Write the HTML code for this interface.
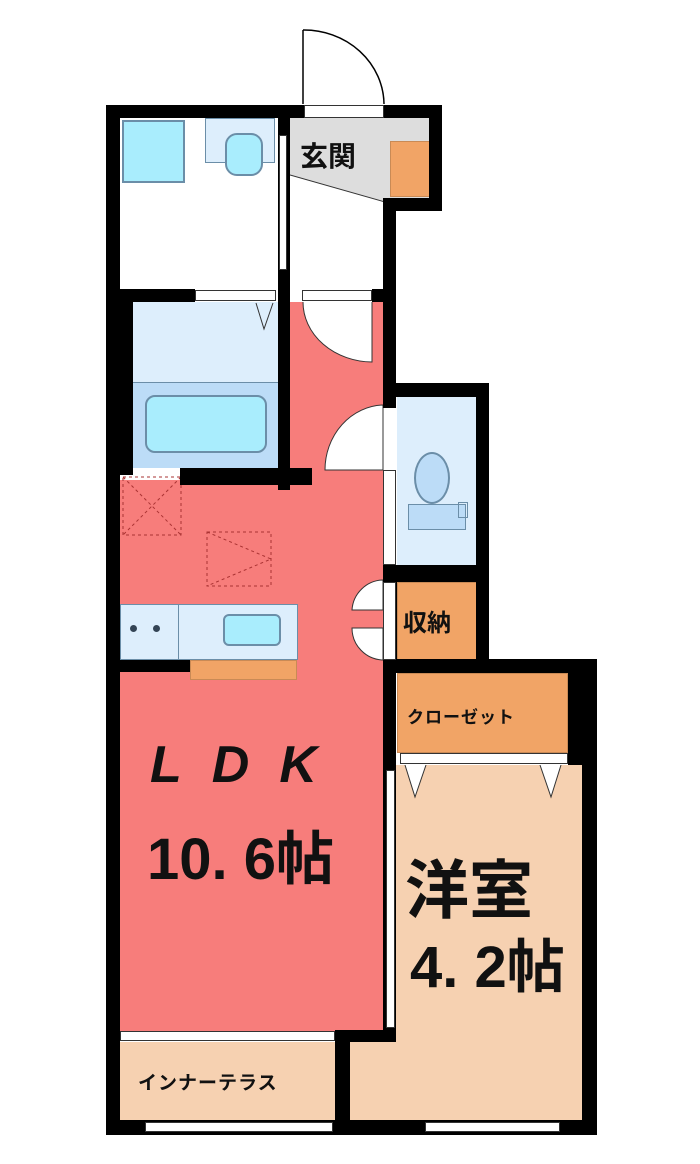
<!DOCTYPE html>
<html><head><meta charset="utf-8"><style>
body{margin:0;width:700px;height:1164px;background:#fff;position:relative;overflow:hidden;font-family:"Liberation Sans","Noto Sans CJK JP",sans-serif}
div{position:absolute;box-sizing:border-box}
.k{background:#000}
.pk{background:#f77d7b}
.pe{background:#f6d1b1}
.or{background:#f1a466;border:1px solid #c98a55}
.lb{background:#ddeefc}
.cy{background:#a9edfd;border:2px solid #6b8ea8}
.w{background:#fff}
.t{font-weight:bold;color:#111;white-space:nowrap}
</style></head><body>
<svg style="position:absolute;left:0;top:0" width="700" height="1164">
<path d="M303 30 L303 104 M303 30 A80 75 0 0 1 384 104" fill="none" stroke="#000" stroke-width="1.5"/>
</svg>
<!-- genkan -->
<div style="left:290px;top:118px;width:140px;height:90px;background:#ddd"></div>
<svg style="position:absolute;left:290px;top:170px" width="100" height="40"><polygon points="0,5 95,32 95,40 0,40" fill="#fff"/><line x1="0" y1="5" x2="95" y2="32" stroke="#333"/></svg>
<div class="w" style="left:290px;top:208px;width:95px;height:84px"></div>
<div class="or" style="left:390px;top:141px;width:40px;height:56px"></div>
<div class="t" style="left:300px;top:135px;font-size:28px">玄関</div>
<!-- wash -->
<div class="cy" style="left:122px;top:120px;width:63px;height:63px"></div>
<div class="lb" style="left:205px;top:118px;width:70px;height:45px;border:1px solid #6b8ea8"></div>
<div class="cy" style="left:225px;top:133px;width:38px;height:43px;border-radius:12px"></div>
<!-- bath -->
<div class="lb" style="left:133px;top:302px;width:145px;height:80px"></div>
<div style="left:133px;top:382px;width:145px;height:86px;background:#bcdcf7;border-top:1px solid #6b8ea8"></div>
<div class="cy" style="left:145px;top:395px;width:122px;height:58px;border-radius:10px"></div>
<svg style="position:absolute;left:255px;top:302px" width="20" height="30"><path d="M1 1 L9 27 L18 1" fill="none" stroke="#333"/></svg>
<!-- LDK pink -->
<div class="pk" style="left:290px;top:302px;width:93px;height:190px"></div>
<div class="pk" style="left:120px;top:480px;width:263px;height:552px"></div>
<svg style="position:absolute;left:0;top:0" width="700" height="1164">
<path d="M303 302 A70 60 0 0 0 372 362 L372 302" fill="#fff" stroke="#333"/>
<path d="M383 405 A60 65 0 0 0 325 470 L383 470 Z" fill="#fff" stroke="#333"/>
<path d="M383 580 A32 32 0 0 0 352 610 L383 610 Z M383 660 A32 32 0 0 1 352 628 L383 628 Z" fill="#fff" stroke="#333"/>
<rect x="123" y="477" width="58" height="58" fill="none" stroke="#a33" stroke-dasharray="3,3"/>
<path d="M123 477 L181 535 M181 477 L123 535" stroke="#a33" stroke-dasharray="3,3"/>
<rect x="207" y="532" width="64" height="54" fill="none" stroke="#a33" stroke-dasharray="3,3"/>
<path d="M207 532 L271 559 L207 586" fill="none" stroke="#a33" stroke-dasharray="3,3"/>
</svg>
<!-- kitchen -->
<div class="lb" style="left:120px;top:604px;width:178px;height:56px;border:1px solid #6b8ea8"></div>
<div style="left:178px;top:604px;width:1px;height:56px;background:#6b8ea8"></div>
<div style="left:130px;top:625px;width:7px;height:7px;border-radius:50%;background:#345"></div>
<div style="left:153px;top:625px;width:7px;height:7px;border-radius:50%;background:#345"></div>
<div class="cy" style="left:223px;top:614px;width:58px;height:32px;border-radius:6px"></div>
<div class="or" style="left:190px;top:660px;width:107px;height:20px"></div>
<!-- toilet -->
<div class="lb" style="left:397px;top:397px;width:80px;height:168px"></div>
<div style="left:414px;top:452px;width:36px;height:52px;border-radius:50%;background:#bcdcf7;border:2px solid #6b8ea8"></div>
<div style="left:408px;top:504px;width:58px;height:26px;background:#bcdcf7;border:1px solid #6b8ea8"></div>
<div style="left:458px;top:502px;width:10px;height:16px;border:1px solid #6b8ea8"></div>
<!-- storage -->
<div class="or" style="left:397px;top:582px;width:80px;height:78px"></div>
<div class="t" style="left:403px;top:603px;font-size:24px">収納</div>
<div class="or" style="left:397px;top:673px;width:171px;height:80px"></div>
<div class="t" style="left:407px;top:703px;font-size:17px;letter-spacing:1px">クローゼット</div>
<!-- western room -->
<div class="pe" style="left:396px;top:765px;width:186px;height:355px"></div>
<div class="pe" style="left:350px;top:1030px;width:232px;height:90px"></div>
<svg style="position:absolute;left:400px;top:765px" width="170" height="35"><path d="M5 0 L15 32 L26 0 M140 0 L151 32 L161 0" fill="#fff" stroke="#333"/></svg>
<div class="pe" style="left:120px;top:1042px;width:215px;height:78px"></div>
<!-- walls -->
<div class="k" style="left:106px;top:105px;width:198px;height:13px"></div>
<div class="k" style="left:384px;top:105px;width:58px;height:13px"></div>
<div class="k" style="left:429px;top:105px;width:13px;height:106px"></div>
<div class="k" style="left:384px;top:198px;width:58px;height:13px"></div>
<div class="k" style="left:383px;top:198px;width:13px;height:210px"></div>
<div class="k" style="left:106px;top:105px;width:14px;height:1030px"></div>
<div class="k" style="left:106px;top:290px;width:27px;height:185px"></div>
<div class="k" style="left:106px;top:289px;width:89px;height:13px"></div>
<div class="k" style="left:278px;top:105px;width:12px;height:385px"></div>
<div class="k" style="left:372px;top:289px;width:24px;height:13px"></div>
<div class="k" style="left:180px;top:468px;width:132px;height:17px"></div>
<div class="k" style="left:106px;top:660px;width:84px;height:12px"></div>
<div class="k" style="left:383px;top:383px;width:106px;height:14px"></div>
<div class="k" style="left:476px;top:383px;width:13px;height:290px"></div>
<div class="k" style="left:383px;top:565px;width:106px;height:17px"></div>
<div class="k" style="left:383px;top:565px;width:14px;height:108px"></div>
<div class="k" style="left:383px;top:659px;width:214px;height:14px"></div>
<div class="k" style="left:568px;top:659px;width:29px;height:106px"></div>
<div class="k" style="left:582px;top:659px;width:15px;height:476px"></div>
<div class="k" style="left:383px;top:673px;width:13px;height:367px"></div>
<div class="k" style="left:335px;top:1030px;width:61px;height:12px"></div>
<div class="k" style="left:335px;top:1030px;width:15px;height:105px"></div>
<div class="k" style="left:106px;top:1120px;width:491px;height:15px"></div>
<!-- openings -->
<div class="w" style="left:195px;top:290px;width:81px;height:11px;border:1px solid #333"></div>
<div class="w" style="left:302px;top:290px;width:70px;height:11px;border:1px solid #333"></div>
<div class="w" style="left:304px;top:105px;width:80px;height:13px;border:1px solid #333"></div>
<div class="w" style="left:279px;top:135px;width:8px;height:135px;border:1px solid #333"></div>
<div class="w" style="left:383px;top:470px;width:13px;height:95px;border:1px solid #333"></div>
<div class="w" style="left:383px;top:582px;width:13px;height:78px;border:1px solid #333"></div>
<div class="w" style="left:400px;top:753px;width:168px;height:11px;border:1px solid #333"></div>
<div class="w" style="left:386px;top:770px;width:9px;height:258px;border:1px solid #333"></div>
<div class="w" style="left:120px;top:1031px;width:215px;height:10px;border:1px solid #333"></div>
<div class="w" style="left:145px;top:1122px;width:188px;height:10px;border:1px solid #333"></div>
<div class="w" style="left:425px;top:1122px;width:135px;height:10px;border:1px solid #333"></div>
<!-- labels -->
<div class="t" style="left:150px;top:735px;font-size:52px;letter-spacing:30px;font-style:italic">LDK</div>
<div class="t" style="left:147px;top:812px;font-size:58px;letter-spacing:0px">10. 6帖</div>
<div class="t" style="left:405px;top:840px;font-size:64px">洋室</div>
<div class="t" style="left:410px;top:920px;font-size:58px">4. 2帖</div>
<div class="t" style="left:138px;top:1068px;font-size:19px;letter-spacing:1px">インナーテラス</div>
</body></html>
